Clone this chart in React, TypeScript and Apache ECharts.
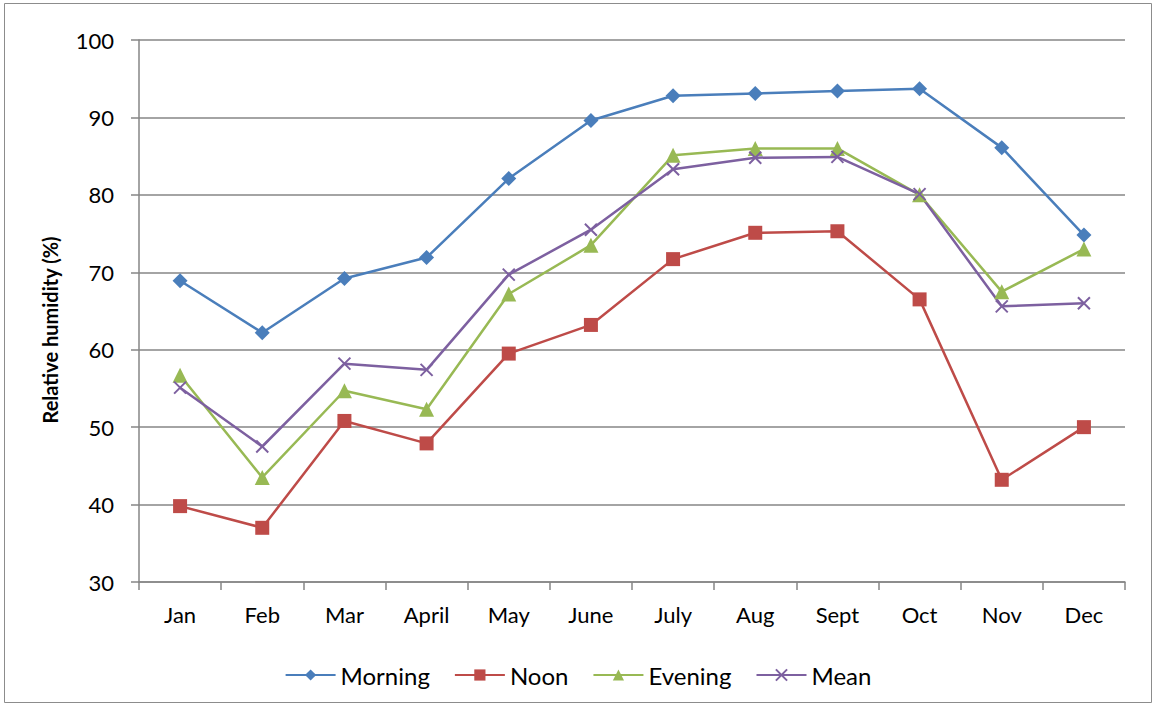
import React, { useEffect, useRef } from "react";
import * as echarts from "echarts";

const months = ["Jan", "Feb", "Mar", "April", "May", "June", "July", "Aug", "Sept", "Oct", "Nov", "Dec"];
const morning = [68.9, 62.2, 69.2, 71.9, 82.1, 89.6, 92.8, 93.1, 93.4, 93.7, 86.1, 74.8];
const noon = [39.8, 37.0, 50.8, 47.9, 59.5, 63.2, 71.7, 75.1, 75.3, 66.5, 43.2, 50.0];
const evening = [56.7, 43.5, 54.7, 52.3, 67.2, 73.5, 85.1, 86.0, 86.0, 80.0, 67.5, 73.0];
const mean = [55.1, 47.5, 58.2, 57.4, 69.7, 75.5, 83.3, 84.8, 84.9, 80.1, 65.6, 66.0];
const yTitle = "Relative humidity (%)";

const FONT = "Lato, 'Open Sans', sans-serif";

export default function App() {
  const ref = useRef<HTMLDivElement>(null);
  useEffect(() => {
    if (!ref.current) return;
    const chart = echarts.init(ref.current, null, { renderer: "svg" });
    const crossPath = "path://M0,0L10,10M10,0L0,10";
    const mk = (name: string, data: number[], color: string, symbol: string, size: number, extra: any = {}) => ({
      name,
      type: "line",
      data,
      symbol,
      symbolSize: size,
      lineStyle: { color, width: 2.5 },
      itemStyle: { color, ...extra },
      emphasis: { disabled: true },
    });
    chart.setOption({
      animation: false,
      textStyle: { fontFamily: FONT },
      graphic: [
        {
          type: "rect",
          shape: { x: 4.5, y: 3.5, width: 1147, height: 699 },
          style: { fill: "none", stroke: "#8c8c8c", lineWidth: 1 },
          silent: true,
        },
        {
          type: "text",
          x: 50,
          y: 330,
          rotation: Math.PI / 2,
          style: {
            text: yTitle,
            fontSize: 20,
            fontWeight: "bold",
            fill: "#000",
            fontFamily: FONT,
            align: "center",
            verticalAlign: "middle",
          },
          silent: true,
        },
      ],
      grid: { left: 139, top: 40, right: 31, bottom: 124, containLabel: false },
      legend: {
        bottom: 14,
        left: "center",
        itemWidth: 50,
        itemHeight: 14,
        itemGap: 24,
        textStyle: { fontSize: 24, color: "#000", fontFamily: FONT },
        data: ["Morning", "Noon", "Evening", "Mean"],
      },
      xAxis: {
        type: "category",
        data: months,
        boundaryGap: true,
        axisLine: { lineStyle: { color: "#868686", width: 1.5 } },
        axisTick: { show: true, length: 8, lineStyle: { color: "#868686", width: 1.5 } },
        axisLabel: { color: "#000", fontSize: 22, margin: 21, fontFamily: FONT },
      },
      yAxis: {
        type: "value",
        min: 30,
        max: 100,
        interval: 10,
        axisLine: { show: true, lineStyle: { color: "#868686", width: 1.5 } },
        axisTick: { show: true, length: 8, lineStyle: { color: "#868686", width: 1.5 } },
        axisLabel: { color: "#000", fontSize: 22, margin: 25, fontFamily: FONT },
        splitLine: { show: true, lineStyle: { color: "#868686", width: 1.5 } },
      },
      series: [
        mk("Morning", morning, "#4a7ebb", "diamond", 15),
        mk("Noon", noon, "#be4b48", "rect", 14),
        mk("Evening", evening, "#98b954", "triangle", 15),
        mk("Mean", mean, "#7d60a0", crossPath, 12, { borderColor: "#7d60a0", borderWidth: 2, color: "none" }),
      ],
    });
    return () => chart.dispose();
  }, []);
  return <div ref={ref} style={{ position: "absolute", left: 0, top: 0, width: 1156, height: 706 }} />;
}
